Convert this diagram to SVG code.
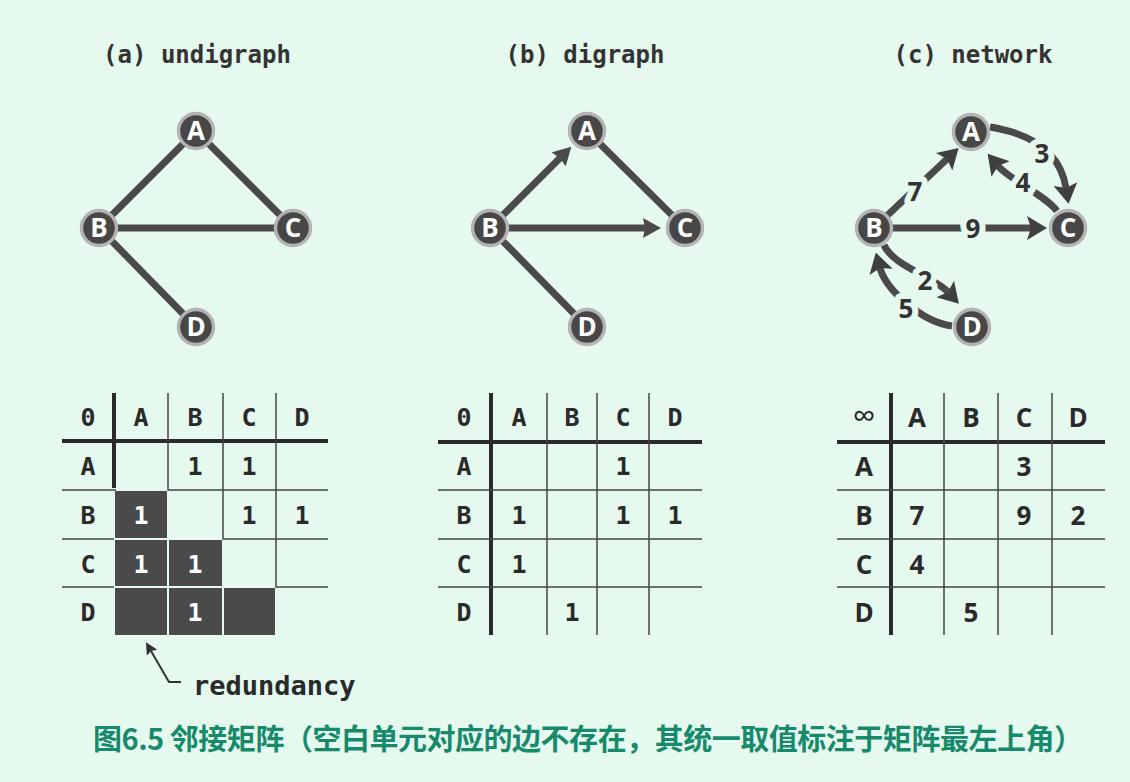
<svg xmlns="http://www.w3.org/2000/svg" width="1130" height="782" viewBox="0 0 1130 782">
<style>
.bg{fill:#e6f9ef}
.title{font-family:"DejaVu Sans Mono","Liberation Mono",monospace;font-weight:bold;font-size:24px;fill:#333;text-anchor:middle}
.edge{stroke:#4a4a4a;stroke-width:7;fill:none}
.nc{fill:#474747;stroke:#b3b3b3;stroke-width:3.5}
.nl{font-family:"Open Sans","DejaVu Sans",sans-serif;font-weight:bold;font-size:26px;fill:#fff;text-anchor:middle}
.wl{font-family:"Open Sans","DejaVu Sans",sans-serif;font-weight:bold;font-size:26px;fill:#333;text-anchor:middle;stroke:#e6f9ef;stroke-width:12;paint-order:stroke;stroke-linejoin:round}
.mt{font-family:"DejaVu Sans Mono","Liberation Mono",monospace;font-weight:bold;font-size:25px;fill:#2a2a2a;text-anchor:middle}
.mtw{font-family:"DejaVu Sans Mono","Liberation Mono",monospace;font-weight:bold;font-size:25px;fill:#fff;text-anchor:middle}
.ms{font-family:"Open Sans","DejaVu Sans",sans-serif;font-weight:bold;font-size:26px;fill:#2a2a2a;text-anchor:middle}
.thick{stroke:#2a2a2a;stroke-width:4;fill:none}
.thin{stroke:#444;stroke-width:1.5;fill:none}
.dark{fill:#4a4a4a}
.cap{font-family:"Noto Sans CJK SC","Noto Sans",sans-serif;font-weight:bold;font-size:29px;fill:#178a6b}
</style>
<defs>
<marker id="ah" markerUnits="userSpaceOnUse" viewBox="0 0 18 20" markerWidth="18" markerHeight="20" refX="2" refY="10" orient="auto"><path d="M0,0 L18,10 L0,20 L2,10 z" fill="#4a4a4a"/></marker>
<marker id="ah2" markerUnits="userSpaceOnUse" viewBox="0 0 20 24" markerWidth="20" markerHeight="24" refX="4" refY="12" orient="auto"><path d="M0,0 L20,12 L0,24 L4,12 z" fill="#3f3f3f"/></marker>
<marker id="sm" markerUnits="userSpaceOnUse" viewBox="0 0 12 12" markerWidth="12" markerHeight="12" refX="2" refY="6" orient="auto"><path d="M0,0 L12,6 L0,12 L2,6 z" fill="#333"/></marker>
</defs>
<rect class="bg" x="0" y="0" width="1130" height="782"/>

<g id="titles">
<text class="title" x="197" y="63">(a) undigraph</text>
<text class="title" x="585" y="63">(b) digraph</text>
<text class="title" x="973" y="63">(c) network</text>
</g>

<!-- (a) undigraph -->
<g id="connectors-a">
<line class="edge" x1="99" y1="228" x2="196" y2="131"/>
<line class="edge" x1="196" y1="131" x2="293" y2="228"/>
<line class="edge" x1="99" y1="228" x2="293" y2="228"/>
<line class="edge" x1="99" y1="228" x2="196" y2="327"/>
</g>
<g id="a-A"><circle class="nc" cx="196" cy="131" r="17.5"/><text class="nl" x="196" y="140">A</text></g>
<g id="a-B"><circle class="nc" cx="99" cy="228" r="17.5"/><text class="nl" x="99" y="237">B</text></g>
<g id="a-C"><circle class="nc" cx="293" cy="228" r="17.5"/><text class="nl" x="293" y="237">C</text></g>
<g id="a-D"><circle class="nc" cx="196" cy="327" r="17.5"/><text class="nl" x="196" y="336">D</text></g>

<!-- (b) digraph -->
<g id="connectors-b">
<line class="edge" x1="490" y1="228" x2="560" y2="158" marker-end="url(#ah)"/>
<line class="edge" x1="587" y1="131" x2="685" y2="228"/>
<line class="edge" x1="490" y1="228" x2="645" y2="228" marker-end="url(#ah)"/>
<line class="edge" x1="490" y1="228" x2="587" y2="327"/>
</g>
<g id="b-A"><circle class="nc" cx="587" cy="131" r="17.5"/><text class="nl" x="587" y="140">A</text></g>
<g id="b-B"><circle class="nc" cx="490" cy="228" r="17.5"/><text class="nl" x="490" y="237">B</text></g>
<g id="b-C"><circle class="nc" cx="685" cy="228" r="17.5"/><text class="nl" x="685" y="237">C</text></g>
<g id="b-D"><circle class="nc" cx="587" cy="327" r="17.5"/><text class="nl" x="587" y="336">D</text></g>

<!-- (c) network -->
<g id="connectors-c">
<path class="edge" d="M874,228 L947,159" marker-end="url(#ah2)"/>
<path class="edge" d="M874,228 L1031,228" marker-end="url(#ah2)"/>
<path class="edge" d="M990,127 Q1058,138 1066,188" marker-end="url(#ah2)"/>
<path class="edge" d="M1057,211 C1045,195 1010,180 998,166" marker-end="url(#ah2)"/>
<path class="edge" d="M884,245 C893,266 933,276 948,292" marker-end="url(#ah2)"/>
<path class="edge" d="M952,326 C922,322 886,290 880,268" marker-end="url(#ah2)"/>
<text class="wl" x="915" y="201">7</text>
<text class="wl" x="973" y="238">9</text>
<text class="wl" x="1042" y="163">3</text>
<text class="wl" x="1023" y="192">4</text>
<text class="wl" x="925" y="290">2</text>
<text class="wl" x="906" y="318">5</text>
</g>
<g id="c-A"><circle class="nc" cx="971" cy="132" r="17.5"/><text class="nl" x="971" y="141">A</text></g>
<g id="c-B"><circle class="nc" cx="874" cy="228" r="17.5"/><text class="nl" x="874" y="237">B</text></g>
<g id="c-C"><circle class="nc" cx="1068" cy="228" r="17.5"/><text class="nl" x="1068" y="237">C</text></g>
<g id="c-D"><circle class="nc" cx="972" cy="327" r="17.5"/><text class="nl" x="972" y="336">D</text></g>

<!-- matrix (a) -->
<g id="matrix-a">
<rect class="dark" x="115" y="491" width="52" height="47"/>
<rect class="dark" x="115" y="540" width="52" height="46"/>
<rect class="dark" x="169" y="540" width="53" height="46"/>
<rect class="dark" x="115" y="588" width="52" height="47"/>
<rect class="dark" x="169" y="588" width="53" height="47"/>
<rect class="dark" x="224" y="588" width="51" height="47"/>
<line class="thick" x1="62" y1="441" x2="328" y2="441"/>
<path class="thick" d="M114,393 L114,488"/>
<path class="thin" d="M62,490 L116,490 M62,539 L114,539 M62,587 L114,587"/>
<path class="thin" d="M168,393 L168,490 L328,490"/>
<path class="thin" d="M223,393 L223,539 L328,539"/>
<path class="thin" d="M276,393 L276,587 L328,587"/>
<text class="mt" x="88" y="426">0</text>
<text class="mt" x="141" y="426">A</text>
<text class="mt" x="195" y="426">B</text>
<text class="mt" x="249" y="426">C</text>
<text class="mt" x="302" y="426">D</text>
<text class="mt" x="88" y="475">A</text>
<text class="mt" x="88" y="524">B</text>
<text class="mt" x="88" y="573">C</text>
<text class="mt" x="88" y="621">D</text>
<text class="mt" x="195" y="475">1</text>
<text class="mt" x="249" y="475">1</text>
<text class="mt" x="249" y="524">1</text>
<text class="mt" x="302" y="524">1</text>
<text class="mtw" x="141" y="524">1</text>
<text class="mtw" x="141" y="573">1</text>
<text class="mtw" x="195" y="573">1</text>
<text class="mtw" x="195" y="621">1</text>
</g>
<g id="redundancy">
<polyline points="181,682 169,682 151,651" fill="none" stroke="#333" stroke-width="2" marker-end="url(#sm)"/>
<text x="193" y="695" style="font-family:'DejaVu Sans Mono','Liberation Mono',monospace;font-weight:bold;font-size:27px;fill:#2a2a2a">redundancy</text>
</g>

<!-- matrix (b) -->
<g id="matrix-b">
<line class="thick" x1="438" y1="442" x2="702" y2="442"/>
<line class="thick" x1="491" y1="393" x2="491" y2="635"/>
<path class="thin" d="M547,393 L547,635 M597,393 L597,635 M649,393 L649,635 M438,490 L702,490 M438,539 L702,539 M438,587 L702,587"/>
<text class="mt" x="464" y="426">0</text>
<text class="mt" x="519" y="426">A</text>
<text class="mt" x="572" y="426">B</text>
<text class="mt" x="623" y="426">C</text>
<text class="mt" x="675" y="426">D</text>
<text class="mt" x="464" y="475">A</text>
<text class="mt" x="464" y="524">B</text>
<text class="mt" x="464" y="573">C</text>
<text class="mt" x="464" y="621">D</text>
<text class="mt" x="623" y="475">1</text>
<text class="mt" x="519" y="524">1</text>
<text class="mt" x="623" y="524">1</text>
<text class="mt" x="675" y="524">1</text>
<text class="mt" x="519" y="573">1</text>
<text class="mt" x="572" y="621">1</text>
</g>

<!-- matrix (c) -->
<g id="matrix-c">
<line class="thick" x1="837" y1="442" x2="1105" y2="442"/>
<line class="thick" x1="891" y1="393" x2="891" y2="635"/>
<path class="thin" d="M944,393 L944,635 M998,393 L998,635 M1052,393 L1052,635 M837,490 L1105,490 M837,539 L1105,539 M837,587 L1105,587"/>
<text class="ms" x="864" y="427" style="font-size:32px;font-weight:normal">∞</text>
<text class="ms" x="917" y="427">A</text>
<text class="ms" x="971" y="427">B</text>
<text class="ms" x="1024" y="427">C</text>
<text class="ms" x="1078" y="427">D</text>
<text class="ms" x="864" y="476">A</text>
<text class="ms" x="864" y="525">B</text>
<text class="ms" x="864" y="574">C</text>
<text class="ms" x="864" y="622">D</text>
<text class="ms" x="1024" y="476">3</text>
<text class="ms" x="917" y="525">7</text>
<text class="ms" x="1024" y="525">9</text>
<text class="ms" x="1078" y="525">2</text>
<text class="ms" x="917" y="574">4</text>
<text class="ms" x="971" y="622">5</text>
</g>

<g id="caption">
<text class="cap" x="93" y="750" textLength="990" lengthAdjust="spacing">图6.5 邻接矩阵（空白单元对应的边不存在，其统一取值标注于矩阵最左上角）</text>
</g>
</svg>
